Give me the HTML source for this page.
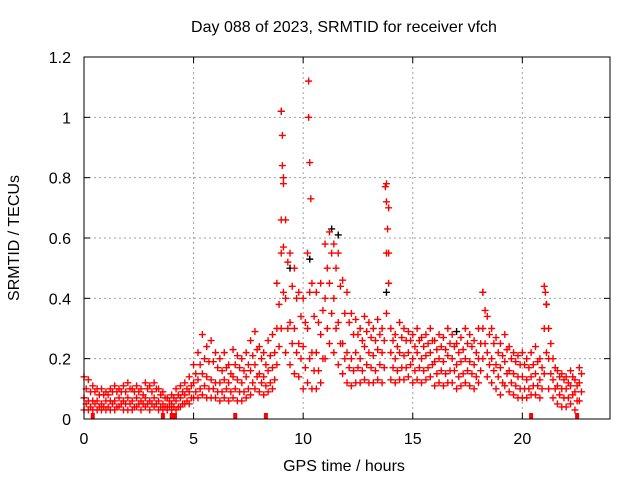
<!DOCTYPE html>
<html><head><meta charset="utf-8"><style>
body{margin:0;background:#fff}
svg text{font-family:"Liberation Sans",sans-serif;font-size:16px;fill:#000}
</style></head><body>
<svg id="chart" width="640" height="480" xmlns="http://www.w3.org/2000/svg">
<rect width="640" height="480" fill="#fff"/>
<g id="grid"></g><g id="pts"></g><g id="axes"></g>
</svg>
<script>
const xTicks=[0,5,10,15,20];
const yTicks=[0,0.2,0.4,0.6,0.8,1,1.2];
const yTickLabels=["0","0.2","0.4","0.6","0.8","1","1.2"];
const tStep=0.2;
const hiVals=[.14,.13,.11,.10,.10,.09,.10,.11,.10,.11,
.12,.10,.11,.10,.12,.11,.12,.10,.09,.07,
.08,.10,.11,.12,.14,.18,.22,.28,.24,.26,
.22,.20,.22,.18,.23,.21,.20,.22,.26,.29,
.24,.22,.26,.28,.45,1.02,.66,.55,.50,.42,
.40,.55,.45,.42,.45,.58,.62,.58,.55,.46,
.42,.35,.33,.30,.34,.32,.30,.33,.30,.78,
.30,.28,.32,.30,.29,.28,.30,.27,.28,.30,
.26,.28,.27,.30,.28,.25,.27,.30,.28,.26,
.30,.42,.34,.30,.27,.25,.28,.24,.22,.21,
.22,.20,.22,.24,.20,.44,.30,.20,.16,.15,
.14,.16,.13,.17];
const midVals=[.07,.06,.06,.06,.05,.06,.06,.06,.07,.06,
.07,.06,.07,.06,.07,.06,.07,.06,.05,.04,
.05,.06,.07,.08,.09,.12,.13,.15,.14,.13,
.12,.12,.13,.12,.14,.13,.12,.14,.16,.18,
.15,.14,.16,.17,.30,.55,.40,.32,.30,.25,
.24,.30,.22,.22,.28,.40,.45,.40,.32,.25,
.22,.20,.22,.20,.24,.22,.21,.23,.22,.55,
.22,.20,.22,.21,.22,.20,.22,.20,.21,.22,
.19,.20,.19,.21,.20,.18,.19,.20,.19,.18,
.20,.30,.22,.20,.18,.17,.19,.16,.15,.14,
.14,.13,.14,.15,.13,.30,.20,.13,.11,.10,
.10,.11,.09,.12];
const loVals=[.03,.03,.03,.03,.03,.03,.03,.03,.04,.03,
.03,.03,.04,.03,.04,.03,.04,.03,.03,.03,
.03,.03,.04,.05,.05,.07,.07,.08,.07,.07,
.07,.06,.07,.06,.07,.06,.06,.07,.08,.10,
.09,.08,.09,.10,.18,.30,.22,.18,.15,.14,
.10,.12,.10,.10,.12,.20,.25,.22,.18,.15,
.12,.11,.12,.12,.13,.12,.12,.13,.12,.35,
.13,.12,.13,.13,.14,.12,.13,.12,.13,.14,
.11,.12,.11,.12,.12,.10,.11,.12,.11,.10,
.12,.20,.14,.12,.10,.08,.11,.09,.08,.07,
.07,.07,.08,.08,.07,.15,.10,.07,.05,.04,
.04,.05,.03,.06];
// half-step samples (t = i*0.2 + 0.1)
const hi2Vals=[.10,.09,.09,.08,.08,.08,.09,.09,.09,.09,
.10,.09,.09,.08,.10,.09,.10,.08,.07,.06,
.07,.08,.09,.10,.11,.15,.18,.20,.19,.19,
.17,.16,.17,.15,.18,.17,.16,.18,.21,.23,
.20,.18,.21,.22,.38,.80,.52,.44,.40,.34,
.32,.42,.34,.32,.36,.50,.55,.50,.44,.35,
.32,.28,.28,.26,.29,.27,.26,.28,.26,.70,
.26,.24,.27,.26,.26,.24,.26,.24,.25,.26,
.23,.24,.23,.25,.24,.22,.23,.25,.24,.22,
.25,.36,.28,.25,.22,.21,.23,.20,.19,.18,
.18,.17,.18,.19,.17,.38,.25,.17,.14,.13,
.12,.14,.11,.15];
const lo2Vals=[.05,.04,.05,.04,.04,.04,.05,.04,.05,.05,
.05,.04,.05,.05,.05,.05,.05,.04,.04,.04,
.04,.04,.05,.06,.07,.09,.10,.11,.10,.10,
.09,.09,.10,.09,.10,.09,.09,.10,.12,.14,
.12,.11,.12,.13,.24,.42,.30,.25,.22,.20,
.17,.20,.16,.16,.20,.30,.35,.30,.25,.20,
.17,.16,.17,.16,.18,.17,.16,.18,.17,.45,
.17,.16,.17,.17,.18,.16,.17,.16,.17,.18,
.15,.16,.15,.16,.16,.14,.15,.16,.15,.14,
.16,.25,.18,.16,.14,.12,.15,.12,.11,.10,
.10,.10,.11,.11,.10,.22,.15,.10,.08,.07,
.07,.08,.06,.09];
const spikeT=[9.05,9.05,9.1,9.0,9.1,10.25,10.25,10.3,10.35,13.75,13.8,13.85,13.9,21.05,18.2];
const spikeV=[0.94,0.84,0.78,0.66,0.57,1.12,1.0,0.85,0.73,0.77,0.72,0.63,0.55,0.42,0.42];
const blackT=[9.0,9.4,10.3,11.3,11.6,13.8,17.0,21.1];
const blackV=[1.02,0.5,0.53,0.63,0.61,0.42,0.29,0.38];
const zeroT=[0.4,3.6,4.0,4.15,6.9,8.3,20.4,22.5];

const L=84,R=610,T=57,B=419,xMax=24,yMax=1.2;
const X=v=>L+(R-L)*v/xMax, Y=v=>B-(B-T)*v/yMax;
const NS="http://www.w3.org/2000/svg";
function mk(tag,attrs,parent){const e=document.createElementNS(NS,tag);for(const k in attrs)e.setAttribute(k,attrs[k]);parent.appendChild(e);return e;}
const grid=document.getElementById('grid'),axes=document.getElementById('axes'),pts=document.getElementById('pts');
xTicks.forEach(v=>{
 if(v>0){const g=mk('line',{x1:X(v),x2:X(v),y1:T,y2:B,stroke:'#a0a0a0','stroke-dasharray':'2,3'},grid);
 
 }
 mk('line',{x1:X(v),x2:X(v),y1:B,y2:B-6,stroke:'#000'},axes);
 mk('line',{x1:X(v),x2:X(v),y1:T,y2:T+6,stroke:'#000'},axes);
 const t=mk('text',{x:X(v),y:B+25,'text-anchor':'middle'},axes);t.textContent=v;
 
 
});
yTicks.forEach((v,i)=>{
 if(v>0&&v<1.2){const g=mk('line',{x1:L,x2:R,y1:Y(v),y2:Y(v),stroke:'#a0a0a0','stroke-dasharray':'2,3'},grid);
 
 }
 mk('line',{x1:L,x2:L+6,y1:Y(v),y2:Y(v),stroke:'#000'},axes);
 mk('line',{x1:R,x2:R-6,y1:Y(v),y2:Y(v),stroke:'#000'},axes);
 const t=mk('text',{x:L-13,y:Y(v)+6,'text-anchor':'end'},axes);t.textContent=yTickLabels[i];
 
 
});
const box=mk('rect',{x:L,y:T,width:R-L,height:B-T,fill:'none',stroke:'#000'},axes);


function plus(x,y,c){
 const p=mk('path',{d:`M${x-3.5},${y}h7M${x},${y-3.5}v7`,stroke:c,'stroke-width':1.4,fill:'none'},pts);
 
 
}
blackT.forEach((t,i)=>plus(X(t),Y(blackV[i]),'#000'));
[hiVals,midVals,loVals].forEach(arr=>arr.forEach((v,i)=>plus(X(i*tStep),Y(v),'#f00')));
[hi2Vals,lo2Vals].forEach(arr=>arr.forEach((v,i)=>plus(X(i*tStep+tStep/2),Y(v),'#f00')));
spikeT.forEach((t,i)=>plus(X(t),Y(spikeV[i]),'#f00'));
zeroT.forEach(t=>{const z=mk('rect',{x:X(t)-2,y:B-6,width:4,height:6,fill:'#f00'},pts);
 
 });
let t=mk('text',{x:344,y:32,'text-anchor':'middle'},axes);t.textContent='Day 088 of 2023, SRMTID for receiver vfch';


t=mk('text',{x:344,y:471,'text-anchor':'middle'},axes);t.textContent='GPS time / hours';


t=mk('text',{x:19,y:238,'text-anchor':'middle',transform:'rotate(-90 19 238)'},axes);t.textContent='SRMTID / TECUs';


</script>
</body></html>
